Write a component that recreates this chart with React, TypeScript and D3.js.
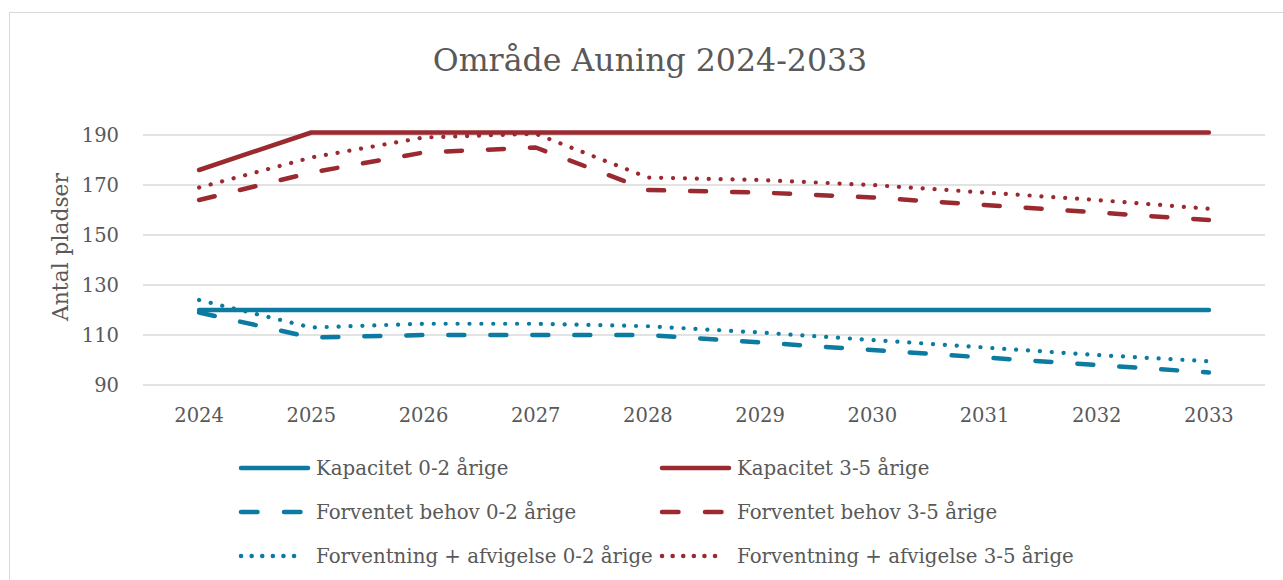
import { useEffect, useRef } from 'react';
import * as d3 from 'd3';

const years = ['2024', '2025', '2026', '2027', '2028', '2029', '2030', '2031', '2032', '2033'];
const yTicks = [90, 110, 130, 150, 170, 190];

const kapacitet02 = [120, 120, 120, 120, 120, 120, 120, 120, 120, 120];
const kapacitet35 = [176, 191, 191, 191, 191, 191, 191, 191, 191, 191];
const behov02 = [119, 109, 110, 110, 110, 107, 104, 101, 98, 95];
const behov35 = [164, 175, 183, 185, 168, 167, 165, 162, 159, 156];
const afvig02 = [124, 113, 114.5, 114.5, 113.5, 111, 108, 105, 102, 99.5];
const afvig35 = [169, 181, 189, 190.5, 173, 172, 170, 167, 164, 160.5];

const BLUE = '#0b7ba1';
const RED = '#9b2a30';
const DASH = '16 26';
const DOT = '0.1 11.8';

interface Serie {
  navn: string;
  values: number[];
  color: string;
  dash: string | null;
}

const serier: Serie[] = [
  { navn: 'Kapacitet 0-2 årige', values: kapacitet02, color: BLUE, dash: null },
  { navn: 'Kapacitet 3-5 årige', values: kapacitet35, color: RED, dash: null },
  { navn: 'Forventet behov 0-2 årige', values: behov02, color: BLUE, dash: DASH },
  { navn: 'Forventet behov 3-5 årige', values: behov35, color: RED, dash: DASH },
  { navn: 'Forventning + afvigelse 0-2 årige', values: afvig02, color: BLUE, dash: DOT },
  { navn: 'Forventning + afvigelse 3-5 årige', values: afvig35, color: RED, dash: DOT },
];

const FONT = '"DejaVu Serif", serif';
const TEXT = '#595959';

export default function App() {
  const svgRef = useRef<SVGSVGElement>(null);

  useEffect(() => {
    if (!svgRef.current) return;
    const svg = d3.select(svgRef.current);
    svg.selectAll('*').remove();

    // ramme
    svg.append('rect')
      .attr('x', 9.5).attr('y', 12.5)
      .attr('width', 1400).attr('height', 700)
      .attr('fill', 'white').attr('stroke', '#d9d9d9');

    const x = d3.scaleBand<string>().domain(years).range([143, 1265]);
    const y = d3.scaleLinear().domain([90, 190]).range([385, 135]);

    // gitterlinjer
    svg.append('g')
      .selectAll('line')
      .data(yTicks)
      .enter().append('line')
      .attr('x1', 143).attr('x2', 1265)
      .attr('y1', d => y(d)).attr('y2', d => y(d))
      .attr('stroke', '#d9d9d9').attr('stroke-width', 1.3);

    // akser
    const yAxis = svg.append('g')
      .attr('transform', 'translate(119,0)')
      .call(d3.axisLeft(y).tickValues(yTicks).tickSize(0).tickPadding(0));
    yAxis.select('.domain').remove();
    yAxis.selectAll('text')
      .attr('font-family', FONT).attr('font-size', 19.5).attr('fill', TEXT);

    const xAxis = svg.append('g')
      .attr('transform', 'translate(0,385)')
      .call(d3.axisBottom(x).tickSize(0).tickPadding(23));
    xAxis.select('.domain').remove();
    xAxis.selectAll('text')
      .attr('font-family', FONT).attr('font-size', 19.5).attr('fill', TEXT);

    // titler
    svg.append('text')
      .attr('x', 650).attr('y', 71)
      .attr('text-anchor', 'middle')
      .attr('font-family', FONT).attr('font-size', 31.6).attr('fill', TEXT)
      .text('Område Auning 2024-2033');

    svg.append('text')
      .attr('transform', 'translate(68,247) rotate(-90)')
      .attr('text-anchor', 'middle')
      .attr('font-family', FONT).attr('font-size', 21.8).attr('fill', TEXT)
      .text('Antal pladser');

    // linjer
    const line = d3.line<number>()
      .x((_, i) => (x(years[i]) as number) + x.bandwidth() / 2)
      .y(d => y(d));

    const order = [4, 2, 0, 5, 3, 1];
    order.forEach(i => {
      const s = serier[i];
      svg.append('path')
        .datum(s.values)
        .attr('fill', 'none')
        .attr('stroke', s.color)
        .attr('stroke-width', s.dash === DOT ? 4.2 : 4.5)
        .attr('stroke-linecap', 'round')
        .attr('stroke-linejoin', 'round')
        .attr('stroke-dasharray', s.dash)
        .attr('d', line);
    });

    // forklaring
    const legend = svg.append('g')
      .selectAll('g')
      .data(serier)
      .enter().append('g')
      .attr('transform', (_, i) => `translate(${i % 2 === 0 ? 241 : 662},${[468, 512, 556][Math.floor(i / 2)]})`);

    legend.append('line')
      .attr('x1', 0).attr('x2', d => d.dash ? 63 : 67)
      .attr('stroke', d => d.color)
      .attr('stroke-width', 4.5)
      .attr('stroke-linecap', 'round')
      .attr('stroke-dasharray', d => d.dash === DASH ? '16.5 26.5' : d.dash === DOT ? '0.1 10.5' : null);

    legend.append('text')
      .attr('x', 75).attr('dy', '0.36em')
      .attr('font-family', FONT).attr('font-size', 19.8).attr('fill', TEXT)
      .text(d => d.navn);
  }, []);

  return (
    <svg
      ref={svgRef}
      width={1283}
      height={580}
      style={{ position: 'absolute', left: 0, top: 0, background: 'white' }}
    />
  );
}
